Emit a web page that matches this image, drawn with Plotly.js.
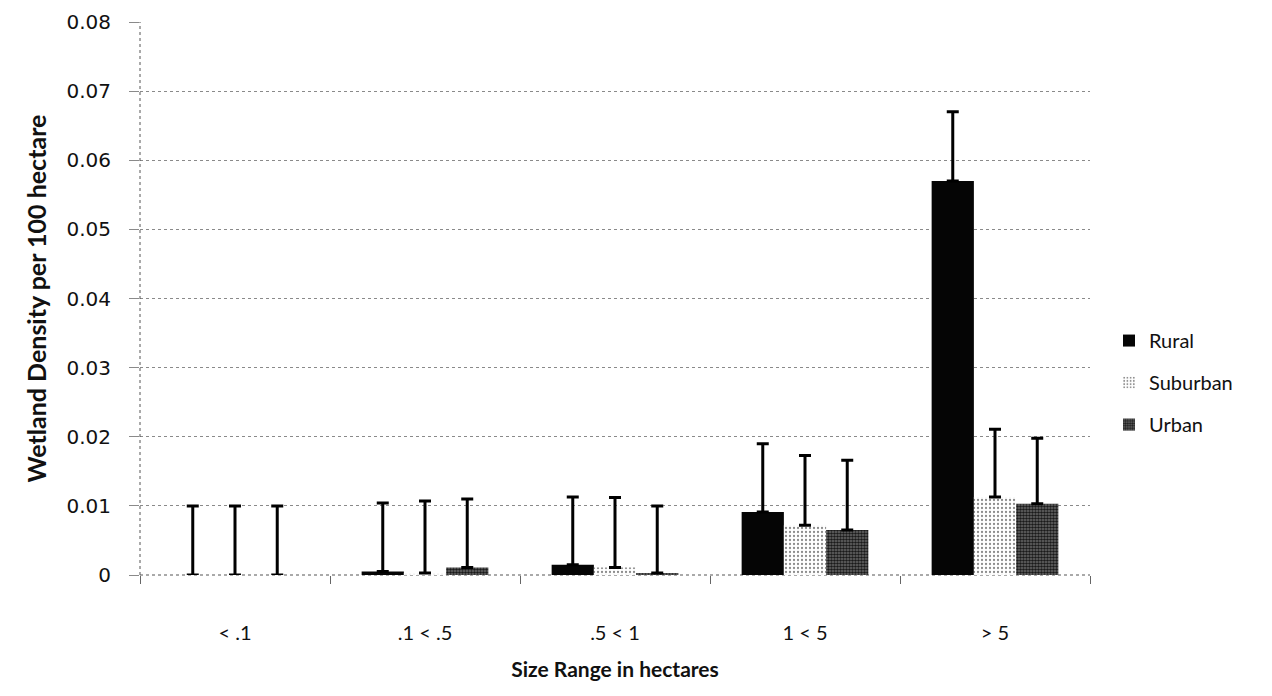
<!DOCTYPE html>
<html>
<head>
<meta charset="utf-8">
<script src="https://cdn.plot.ly/plotly-3.0.1.min.js"></script>
<style>
  html, body { margin: 0; padding: 0; background: #ffffff; }
  #chart { width: 1272px; height: 696px; }
</style>
</head>
<body>
<div id="chart"></div>
<script>
// Categories (size ranges in hectares)
const categories = ['< .1', '.1 < .5', '.5 < 1', '1 < 5', '> 5'];

// Mean wetland density per 100 hectare
const rural    = [0.0000, 0.0005, 0.0015, 0.0091, 0.0570];
const suburban = [0.0000, 0.0003, 0.0011, 0.0072, 0.0113];
const urban    = [0.0000, 0.0011, 0.0003, 0.0065, 0.0103];

// Upper error bar lengths
const ruralErr    = [0.0100, 0.0099, 0.0098, 0.0099, 0.0100];
const suburbanErr = [0.0100, 0.0104, 0.0101, 0.0101, 0.0098];
const urbanErr    = [0.0100, 0.0099, 0.0097, 0.0101, 0.0095];

const zeros = [0, 0, 0, 0, 0];

function errBar(arr) {
  return {
    type: 'data', symmetric: false, array: arr, arrayminus: zeros,
    color: '#000000', thickness: 3, width: 6, visible: true
  };
}

const traces = [
  {
    type: 'bar', name: 'Rural', x: categories, y: rural,
    marker: { color: '#050505', line: { width: 0 } },
    error_y: errBar(ruralErr), legendgroup: 'a'
  },
  {
    type: 'bar', name: 'Suburban', x: categories, y: suburban,
    marker: { color: '#ffffff', line: { width: 0 },
      pattern: { shape: '.', fgcolor: '#8c8c8c', bgcolor: '#ffffff', size: 4, solidity: 0.25 } },
    error_y: errBar(suburbanErr), legendgroup: 'b'
  },
  {
    type: 'bar', name: 'Urban', x: categories, y: urban,
    marker: { color: '#3a3a3a', line: { width: 0 },
      pattern: { shape: '.', fgcolor: '#1a1a1a', bgcolor: '#6e6e6e', size: 3, solidity: 0.6 } },
    error_y: errBar(urbanErr), legendgroup: 'c'
  }
];

const layout = {
  width: 1272, height: 696,
  paper_bgcolor: '#ffffff', plot_bgcolor: '#ffffff',
  margin: { l: 140, r: 182, t: 22, b: 121 },
  barmode: 'group', bargap: 0.333, bargroupgap: 0,
  showlegend: true,
  legend: {
    x: 1.02, xanchor: 'left', y: 0.348, yanchor: 'middle',
    font: { family: 'Lato, "DejaVu Sans", sans-serif', size: 20, color: '#111111' },
    traceorder: 'grouped', tracegroupgap: 13, itemwidth: 30,
    bgcolor: 'rgba(0,0,0,0)'
  },
  xaxis: {
    type: 'category',
    showgrid: false, zeroline: false,
    showline: false,
    ticks: 'outside', tickson: 'boundaries', ticklen: 8, tickcolor: '#666666', tickwidth: 1,
    ticklabelstandoff: 44,
    tickfont: { family: 'Lato, "DejaVu Sans", sans-serif', size: 20, color: '#111111' },
    title: {
      text: 'Size Range in hectares', standoff: 19,
      font: { family: 'Lato, "DejaVu Sans", sans-serif', size: 21, color: '#111111', weight: 'bold' }
    },
    automargin: false
  },
  yaxis: {
    range: [0, 0.08], dtick: 0.01, tick0: 0,
    showgrid: true, gridcolor: '#8a8a8a', griddash: 'dot', gridwidth: 1,
    zeroline: false, showline: false,
    ticks: 'outside', ticklen: 10, tickcolor: '#8a8a8a', tickwidth: 1,
    ticklabelstandoff: 14,
    tickfont: { family: '"DejaVu Sans", Verdana, sans-serif', size: 20, color: '#111111' },
    title: {
      text: 'Wetland Density per 100 hectare', standoff: 12,
      font: { family: 'Lato, "DejaVu Sans", sans-serif', size: 25, color: '#111111', weight: 'bold' }
    },
    automargin: false
  },
  shapes: [
    { type: 'line', xref: 'paper', yref: 'paper', x0: 0, x1: 0, y0: 0, y1: 1,
      line: { color: '#555555', width: 1, dash: 'dot' } },
    { type: 'line', xref: 'paper', yref: 'paper', x0: 0, x1: 1, y0: 0, y1: 0,
      line: { color: '#555555', width: 1, dash: 'dot' }, layer: 'below' }
  ]
};

function fmt(v) { return v === 0 ? '0' : v.toFixed(2); }
const tickvals = [0, 0.01, 0.02, 0.03, 0.04, 0.05, 0.06, 0.07, 0.08];
layout.yaxis.tickmode = 'array';
layout.yaxis.tickvals = tickvals;
layout.yaxis.ticktext = tickvals.map(fmt);

Plotly.newPlot('chart', traces, layout, { displayModeBar: false, staticPlot: true });
</script>
</body>
</html>
